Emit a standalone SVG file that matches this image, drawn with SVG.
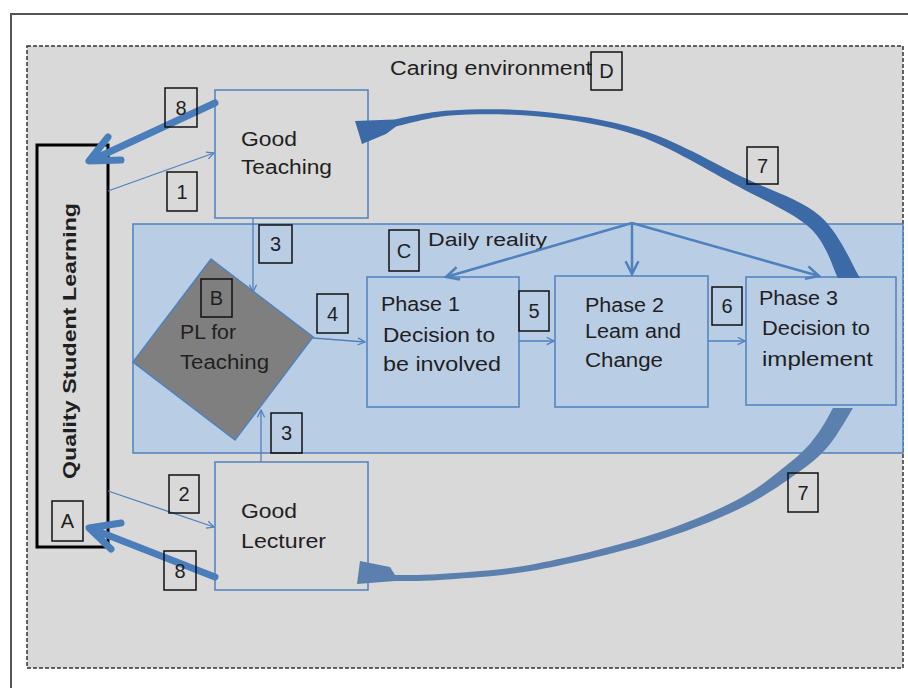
<svg xmlns="http://www.w3.org/2000/svg" width="908" height="688" viewBox="0 0 908 688">
  <defs>
    <style>
      .txt { font-family: "Liberation Sans", Arial, sans-serif; font-size: 20px; fill: #1f1f1f; }
      .small { font-size: 18px; }
      .tag rect { fill: none; stroke: #111; stroke-width: 1.5; }
      .tag text { font-family: "Liberation Sans", Arial, sans-serif; font-size: 20px; fill: #1f1f1f; text-anchor: middle; }
      .box { stroke: #4f81bd; stroke-width: 1.5; }
      .thin { fill: none; stroke: #4f81bd; stroke-width: 1.3; }
      .fan { fill: none; stroke: #4f81bd; stroke-width: 2.5; }
      .thick { fill: none; stroke: #4a7ebb; stroke-width: 7; stroke-linecap: round; stroke-linejoin: round; }
    </style>
    <marker id="open" viewBox="0 0 10 10" refX="9" refY="5" markerWidth="9" markerHeight="9" markerUnits="userSpaceOnUse" orient="auto">
      <path d="M1,1 L9,5 L1,9" fill="none" stroke="#4f81bd" stroke-width="1.4"/>
    </marker>
    <marker id="openBig" viewBox="0 0 10 10" refX="9" refY="5" markerWidth="16" markerHeight="16" markerUnits="userSpaceOnUse" orient="auto">
      <path d="M1,1 L9,5 L1,9" fill="none" stroke="#4f81bd" stroke-width="1.6"/>
    </marker>
  </defs>

  <!-- page frame -->
  <rect x="0" y="0" width="908" height="688" fill="#ffffff"/>
  <rect x="11" y="14" width="910" height="690" fill="none" stroke="#555" stroke-width="2"/>

  <!-- caring environment (D) -->
  <g id="caring-environment">
    <rect x="27" y="46" width="876" height="622" fill="#d9d9d9" stroke="#333" stroke-width="1.5" stroke-dasharray="4 2"/>
    <text class="txt" x="390" y="75" textLength="202" lengthAdjust="spacingAndGlyphs">Caring environment</text>
  </g>

  <!-- daily reality (C) -->
  <g id="daily-reality">
    <rect x="133" y="224" width="770" height="229" fill="#b9cde5" stroke="#4f81bd" stroke-width="1.5"/>
    <text class="txt small" x="428" y="246" textLength="119" lengthAdjust="spacingAndGlyphs">Daily reality</text>
  </g>

  <!-- quality student learning (A) -->
  <g id="quality-student-learning">
    <rect x="37" y="145" width="71" height="402" fill="#d9d9d9" stroke="#000" stroke-width="3"/>
    <text x="0" y="0" transform="translate(76,341) rotate(-90)" font-family="Liberation Sans, Arial, sans-serif" font-size="18" font-weight="bold" fill="#1f1f1f" text-anchor="middle" textLength="276" lengthAdjust="spacingAndGlyphs">Quality Student Learning</text>
  </g>

  <!-- nodes -->
  <g id="good-teaching">
    <rect class="box" x="215" y="90" width="153" height="128" fill="#d9d9d9"/>
    <text class="txt" x="241" y="146" textLength="56" lengthAdjust="spacingAndGlyphs">Good</text>
    <text class="txt" x="241" y="174" textLength="91" lengthAdjust="spacingAndGlyphs">Teaching</text>
  </g>

  <g id="good-lecturer">
    <rect class="box" x="215" y="462" width="153" height="128" fill="#d9d9d9"/>
    <text class="txt" x="241" y="518" textLength="56" lengthAdjust="spacingAndGlyphs">Good</text>
    <text class="txt" x="241" y="548" textLength="85" lengthAdjust="spacingAndGlyphs">Lecturer</text>
  </g>

  <g id="pl-for-teaching">
    <polygon points="211,259 313,337 235,440 133,362" fill="#7f7f7f" stroke="#4f81bd" stroke-width="1.5"/>
    <text class="txt" x="180" y="339" textLength="56" lengthAdjust="spacingAndGlyphs">PL for</text>
    <text class="txt" x="180" y="369" textLength="89" lengthAdjust="spacingAndGlyphs">Teaching</text>
  </g>

  <g id="phase-1">
    <rect class="box" x="367" y="277" width="152" height="130" fill="#b9cde5"/>
    <text class="txt" x="381" y="311" textLength="79" lengthAdjust="spacingAndGlyphs">Phase 1</text>
    <text class="txt" x="383" y="342" textLength="112" lengthAdjust="spacingAndGlyphs">Decision to</text>
    <text class="txt" x="383" y="371" textLength="118" lengthAdjust="spacingAndGlyphs">be involved</text>
  </g>

  <g id="phase-2">
    <rect class="box" x="555" y="276" width="153" height="131" fill="#b9cde5"/>
    <text class="txt" x="585" y="312" textLength="79" lengthAdjust="spacingAndGlyphs">Phase 2</text>
    <text class="txt" x="585" y="338" textLength="96" lengthAdjust="spacingAndGlyphs">Leam and</text>
    <text class="txt" x="585" y="367" textLength="78" lengthAdjust="spacingAndGlyphs">Change</text>
  </g>

  <g id="phase-3">
    <rect class="box" x="746" y="277" width="150" height="128" fill="#b9cde5"/>
    <text class="txt" x="759" y="305" textLength="79" lengthAdjust="spacingAndGlyphs">Phase 3</text>
    <text class="txt" x="762" y="335" textLength="108" lengthAdjust="spacingAndGlyphs">Decision to</text>
    <text class="txt" x="762" y="366" textLength="111" lengthAdjust="spacingAndGlyphs">implement</text>
  </g>

  <!-- connectors -->
  <g id="connectors">
    <line class="thin" x1="108" y1="191" x2="214" y2="153" marker-end="url(#open)"/>
    <line class="thin" x1="108" y1="491" x2="214" y2="527" marker-end="url(#open)"/>
    <line class="thin" x1="253" y1="218" x2="253" y2="292" marker-end="url(#open)"/>
    <line class="thin" x1="261" y1="462" x2="261" y2="410" marker-end="url(#open)"/>
    <line class="thin" x1="313" y1="338" x2="365" y2="342" marker-end="url(#open)"/>
    <line class="thin" x1="519" y1="341" x2="554" y2="341" marker-end="url(#open)"/>
    <line class="thin" x1="708" y1="341" x2="745" y2="341" marker-end="url(#open)"/>
    <line class="fan" x1="632" y1="223" x2="446" y2="277" marker-end="url(#openBig)"/>
    <line class="fan" x1="632" y1="223" x2="632" y2="274" marker-end="url(#openBig)"/>
    <line class="fan" x1="632" y1="223" x2="819" y2="276" marker-end="url(#openBig)"/>
    <path class="thick" d="M215,103 L92,160 M108,137 L89,161 L121,160"/>
    <path class="thick" d="M215,577 L92,529 M121,523 L89,528 L111,549"/>

    <!-- feedback arcs (7): tapered curved arrows -->
    <path fill="#3c6aa6" d="M860,278 C853.3,267.7 839.6,232.8 820,216 C800.4,199.2 772.3,191.5 742.5,177 C712.7,162.5 674.8,140.1 641,130 C607.3,118.9 571.8,114.8 540,111.5 C508.2,108.3 474.3,109.1 450,110.5 C425.7,111.9 403.3,117.9 394,119.5 L355,121 L362,144 L386,134 L396,126.5 C405,124.8 426.1,117.6 450,115.5 C473.9,113.9 508,113.6 539.5,116.5 C571,119.9 606,124.4 639,136 C672,147.6 709,171.3 737.5,186 C766,201.7 793.3,212.8 810,228 C826.8,243.2 833.3,269.7 838,278 Z"/>
    <path fill="#5b80ad" d="M833,408 C830.3,412.5 823.6,426.2 816.8,435 C810,443.8 805.7,449.8 792.1,460.8 C778.5,471.8 759.4,488.4 735,501 C710.6,513.6 680.3,525.9 646,536.6 C611.8,547.3 563.9,558.8 529.5,565 C495.1,571.2 462.2,572.3 439.8,574 C417.4,575.7 402.5,574.8 395,575 L390,567 L360,561 L357,584 L395,581 C402.5,580.8 417.6,581.7 440.2,580 C462.8,578.3 495.9,577.1 530.5,571 C565.1,564.9 613.3,553.7 648,543.4 C682.8,533.1 713.7,521 739,509 C764.3,497 784.9,481.9 799.9,471.2 C814.9,460.5 820.4,455.5 829.2,445 C838.1,434.5 849,414.2 853,408 Z"/>
  </g>

  <!-- step tags -->
  <g id="tags" class="tag">
    <g><rect x="165" y="88" width="32" height="39"/><text x="181" y="114.5">8</text></g>
    <g><rect x="167" y="172" width="30" height="39"/><text x="182" y="198.5">1</text></g>
    <g><rect x="259" y="225" width="33" height="38"/><text x="275.5" y="251">3</text></g>
    <g><rect x="271" y="413" width="31" height="40"/><text x="286.5" y="440">3</text></g>
    <g><rect x="317" y="294" width="31" height="39"/><text x="332.5" y="320.5">4</text></g>
    <g><rect x="519" y="291" width="30" height="40"/><text x="534" y="318">5</text></g>
    <g><rect x="712" y="287" width="30" height="38"/><text x="727" y="313">6</text></g>
    <g><rect x="747" y="147" width="31" height="37"/><text x="762.5" y="172.5">7</text></g>
    <g><rect x="788" y="473" width="30" height="39"/><text x="803" y="499.5">7</text></g>
    <g><rect x="169" y="475" width="30" height="38"/><text x="184" y="501">2</text></g>
    <g><rect x="164" y="551" width="32" height="39"/><text x="180" y="577.5">8</text></g>
    <g><rect x="52" y="501" width="31" height="40"/><text x="67.5" y="528">A</text></g>
    <g><rect x="201" y="279" width="31" height="38"/><text x="216.5" y="305">B</text></g>
    <g><rect x="389" y="230" width="30" height="41"/><text x="404" y="257.5">C</text></g>
    <g><rect x="591" y="52" width="31" height="38"/><text x="606.5" y="78">D</text></g>
  </g>
</svg>
